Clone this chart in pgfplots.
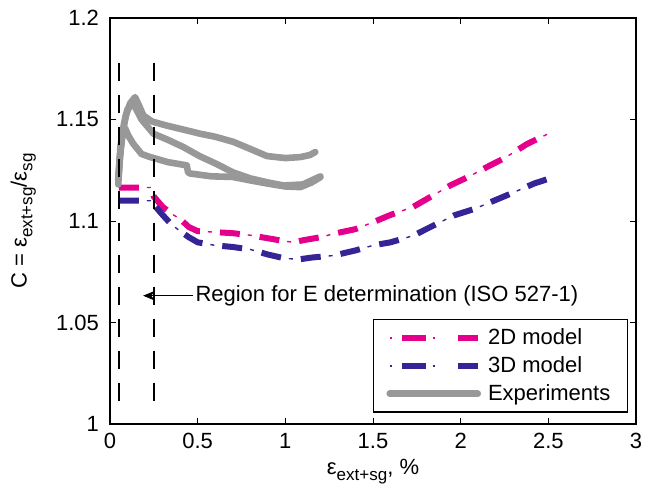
\documentclass[border=0pt]{standalone}
\usepackage{fontspec}
\setmainfont{Liberation Sans}
\usepackage{pgfplots}
\usepackage{pgfplotstable}
\pgfplotsset{compat=1.18}
\usetikzlibrary{arrows.meta}

\definecolor{mag}{RGB}{228,0,138}
\definecolor{blu}{RGB}{52,36,150}
\definecolor{gry}{RGB}{152,152,152}

\newcommand{\sub}[1]{\raisebox{-0.5ex}{\fontsize{8.5}{9}\selectfont #1}}

% 2D model
\pgfplotstableread{
x y
0.05 1.1165
0.23 1.1165
0.25 1.112
0.30 1.107
0.35 1.1036
0.40 1.1010
0.45 1.0970
0.50 1.0950
0.60 1.0945
0.70 1.0940
0.80 1.0930
0.90 1.0915
1.00 1.0900
1.05 1.0895
1.10 1.0905
1.20 1.0920
1.28 1.0938
1.40 1.0960
1.50 1.0994
1.60 1.1030
1.73 1.1070
1.85 1.1130
1.94 1.1175
2.05 1.1220
2.15 1.1266
2.25 1.1310
2.38 1.1380
2.50 1.1430
}\twod

% 3D model
\pgfplotstableread{
x y
0.05 1.1100
0.23 1.1100
0.25 1.1080
0.30 1.1030
0.35 1.0983
0.40 1.0950
0.45 1.0920
0.50 1.0895
0.60 1.0880
0.70 1.0872
0.80 1.0860
0.90 1.0835
1.00 1.0815
1.086 1.0812
1.15 1.0820
1.276 1.0830
1.40 1.0855
1.50 1.0880
1.60 1.0895
1.73 1.0928
1.85 1.0980
1.96 1.1027
2.08 1.1060
2.19 1.1100
2.30 1.1140
2.42 1.1185
2.53 1.1216
}\threed

\begin{document}
\begin{tikzpicture}[font=\fontsize{11}{13}\selectfont]
\useasboundingbox (-55pt,-37.5pt) rectangle (273.5pt,212pt);
\begin{axis}[
    at={(0pt,0pt)}, anchor=south west,
    scale only axis,
    width=263pt, height=203pt,
    xmin=0, xmax=3, ymin=1, ymax=1.2,
    xtick={0,0.5,1,1.5,2,2.5,3},
    ytick={1,1.05,1.1,1.15,1.2},
    yticklabels={1,1.05,1.1,1.15,1.2},
    xticklabels={0,0.5,1,1.5,2,2.5,3},
    yticklabel style={xshift=-2pt},
    xticklabel style={yshift=-1pt},
    tick align=inside,
    major tick length=3pt,
    tick style={black, line width=0.5pt},
    axis line style={line width=0.8pt},
    xlabel={ε\sub{ext+sg}, \%},
    ylabel={C = ε\sub{ext+sg}/ε\sub{sg}},
    xlabel style={at={(axis description cs:0.5,-0.118)}, anchor=center},
    ylabel style={at={(axis description cs:-0.165,0.5)}, anchor=center},
    legend cell align=left,
    legend style={at={(0.985,0.027)}, anchor=south east, draw=black,
        line width=0.8pt, inner xsep=6.5pt, inner ysep=2.5pt, row sep=0.5pt,
        column sep=1.5pt,
        font=\fontsize{11}{13}\selectfont},
]
% thick dashes of the models (legend entries)
\addplot[mag, line width=3pt, dash pattern=on 10pt off 10pt,
    legend image code/.code={
        \draw[mag, line width=0.7pt, dash pattern=on 1.2pt off 20.3pt] (0pt,0pt) -- (44pt,0pt);
        \draw[mag, line width=3pt, dash pattern=on 0pt off 6.3pt on 11.7pt off 9.8pt] (0pt,0pt) -- (44pt,0pt);
    }] table {\twod};
\addlegendentry{2D model}
\addplot[blu, line width=3pt, dash pattern=on 10pt off 10pt,
    legend image code/.code={
        \draw[blu, line width=0.7pt, dash pattern=on 1.2pt off 20.3pt] (0pt,0pt) -- (44pt,0pt);
        \draw[blu, line width=3pt, dash pattern=on 0pt off 6.3pt on 11.7pt off 9.8pt] (0pt,0pt) -- (44pt,0pt);
    }] table {\threed};
\addlegendentry{3D model}
% thin dots of the models
\addplot[forget plot, mag, line width=0.7pt, dash pattern=on 0pt off 14pt on 2pt off 4pt] table {\twod};
\addplot[forget plot, blu, line width=0.7pt, dash pattern=on 0pt off 14pt on 2pt off 4pt] table {\threed};
% experiments
\addplot[gry, line width=3.3pt, line join=round, line cap=round,
    legend image code/.code={\draw[gry, line width=3.3pt] (0pt,0pt) -- (44pt,0pt);}]
coordinates {
(0.047,1.118) (0.055,1.130) (0.070,1.142) (0.090,1.152) (0.115,1.158)
(0.143,1.161) (0.165,1.157) (0.190,1.152) (0.240,1.149) (0.324,1.147)
(0.420,1.145) (0.514,1.143) (0.600,1.1415) (0.703,1.139) (0.800,1.1355)
(0.895,1.132) (1.000,1.131) (1.086,1.1315) (1.140,1.1325) (1.171,1.134)
};
\addlegendentry{Experiments}
\addplot[forget plot, gry, line width=3.3pt, line join=round, line cap=round]
coordinates {
(0.047,1.120) (0.060,1.135) (0.080,1.148) (0.100,1.155) (0.130,1.158)
(0.150,1.155) (0.180,1.150) (0.248,1.143) (0.330,1.140) (0.419,1.1364)
(0.510,1.132) (0.610,1.128) (0.700,1.124) (0.800,1.121) (0.900,1.119)
(0.990,1.1175) (1.100,1.118) (1.200,1.122)
};
\addplot[forget plot, gry, line width=3.3pt, line join=round, line cap=round]
coordinates {
(0.047,1.120) (0.060,1.137) (0.075,1.145) (0.086,1.1457) (0.105,1.142)
(0.133,1.138) (0.180,1.133) (0.229,1.1315) (0.330,1.129) (0.438,1.1274)
(0.445,1.124) (0.457,1.1234) (0.580,1.122) (0.700,1.1217) (0.800,1.120)
(0.895,1.1185) (1.000,1.117) (1.086,1.1167) (1.150,1.119) (1.200,1.1216)
};
% region lines
\addplot[forget plot, black, line width=1.1pt, dash pattern=on 9pt off 7pt]
coordinates {(0.05,1.178) (0.05,1.01)};
\addplot[forget plot, black, line width=1.1pt, dash pattern=on 9pt off 7pt]
coordinates {(0.25,1.178) (0.25,1.01)};
% arrow and note
\addplot[forget plot, black, line width=0.5pt, -{Stealth[length=6pt,width=5pt,inset=2pt]}]
coordinates {(0.474,1.0632) (0.189,1.0632)};
\node[anchor=west, inner sep=1pt] at (axis cs:0.474,1.0632) {Region for E determination (ISO 527-1)};
\end{axis}
\end{tikzpicture}
\end{document}
